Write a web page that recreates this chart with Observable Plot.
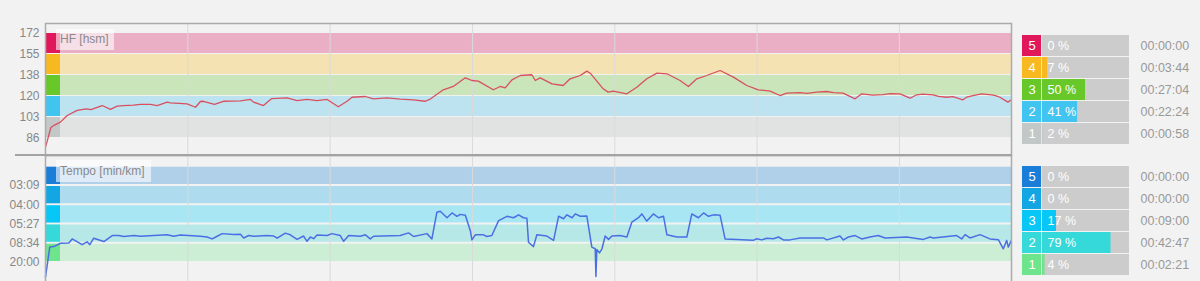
<!DOCTYPE html>
<html><head><meta charset="utf-8">
<script src="https://cdn.jsdelivr.net/npm/d3@7"></script>
<script src="https://cdn.jsdelivr.net/npm/@observablehq/plot@0.6"></script>
<style>
html,body{margin:0;padding:0;background:#f2f2f2;overflow:hidden;}
#chart{position:relative;width:1200px;height:281px;overflow:hidden;font-family:"Liberation Sans",Arial,sans-serif;}
#chart > *{position:absolute;}
.lbl{background:rgba(255,255,255,0.6);color:#8a8a8a;font-size:12px;padding-left:4px;box-sizing:border-box;white-space:nowrap;}
</style></head><body><div id="chart"></div>
<script>
// ---------- data ----------
const T_MAX = 54.3;                       // minutes
const X_GRID = [8, 16, 24, 32, 40, 48];   // minutes

// Heart rate zones (bpm)
const HR_ZONE = [1, 2, 3, 4, 5];
const HR_LO = [86, 103.2, 120.4, 137.6, 154.8];
const HR_HI = [103.2, 120.4, 137.6, 154.8, 172];
const HR_TICKS = [86, 103.2, 120.4, 137.6, 154.8, 172];
const HR_TICK_LABELS = ["86", "103", "120", "138", "155", "172"];
const HR_PCT = [2, 41, 50, 7, 0];
const HR_TIME = ["00:00:58", "00:22:24", "00:27:04", "00:03:44", "00:00:00"];

// Tempo zones (km/h, shown as min/km)
const SP_ZONE = [1, 2, 3, 4, 5];
const SP_LO = [3, 7, 11, 15, 19];
const SP_HI = [7, 11, 15, 19, 23];
const SP_TICKS = [3, 7, 11, 15, 19];
const SP_TICK_LABELS = ["20:00", "08:34", "05:27", "04:00", "03:09"];
const SP_PCT = [4, 79, 17, 0, 0];
const SP_TIME = ["00:02:21", "00:42:47", "00:09:00", "00:00:00", "00:00:00"];

// Heart rate series
const HR_T = [0,0.1,0.3,0.45,0.84,1.22,1.78,2.3,2.55,3.19,3.65,4.03,4.38,4.94,5.34,5.9,6.28,6.84,7.02,7.96,8.43,8.71,8.88,9.5,10,10.96,11.52,11.69,12.25,12.7,13.58,14.14,14.7,15.26,15.83,16.46,16.95,17.23,17.98,18.43,19.2,19.94,20.67,21.35,21.63,22.36,22.92,23.6,23.97,24.33,25.17,25.56,25.84,26.22,26.69,27.34,27.53,27.81,28.47,29.1,29.49,30.06,30.43,30.62,31.35,31.63,31.91,32.68,33.24,33.8,34.37,34.93,35.67,36.14,36.61,37.17,37.92,38.67,39.42,40.07,40.73,41.29,41.67,42.42,42.8,43.35,43.9,44.3,44.83,45.51,45.88,46.5,47.08,47.5,48.03,48.6,48.97,49.3,49.89,50.2,50.66,51.0,51.57,51.78,52.2,52.62,53.19,53.4,53.65,54.1,54.3];
const HR_V = [79,84,95,96.5,99.4,104.8,109,110.3,109.6,113,109.8,112.5,113,113.3,113.9,113.9,113,115.8,115.2,114.4,111.6,116.3,116.5,114,116.5,116.8,118,115.8,113,118.6,119.3,117,118,117,118,112,116.5,119.8,120.4,118.5,119.3,118.2,117.7,116.5,118.3,125.9,128.6,135.7,133.5,133,125.9,128.6,127.5,134,137.6,138.2,133.5,135.7,130.8,129.4,134.9,137.6,141.2,139.5,126.7,124,124.8,122.6,128,134.9,139.5,139,133.5,128.6,134.9,137.6,141.7,136.3,129.4,125.9,124.8,121.2,123.1,123.5,123,124,124.5,123.6,123.1,118.5,122.6,121.5,122,122.8,122.6,119,121.8,122.3,121.8,120.5,119.8,120.3,117.7,119.8,121.3,122.6,121.8,121.2,119.8,115.8,117.7];

// Speed series (km/h)
const SP_T = [0,0.24,0.47,0.84,1.31,1.5,2.06,2.34,2.49,2.71,3.28,3.75,4.12,4.4,4.96,5.34,6.84,7.21,7.58,8.71,9.08,9.37,9.65,9.93,10.58,10.96,11.14,11.42,11.7,12.46,12.83,13.02,13.48,13.76,14.14,14.51,14.7,14.89,15.07,15.26,15.83,16.1,16.57,16.76,17.04,17.7,17.98,18.26,18.44,19.94,20.41,20.69,21.44,21.72,22.0,22.19,22.57,22.85,23.13,23.31,23.6,23.88,23.97,24.16,24.62,24.81,25.09,25.47,25.94,26.31,26.59,26.87,27.06,27.15,27.43,27.62,28.18,28.56,28.84,29.12,29.31,29.6,29.78,30.06,30.43,30.71,30.9,30.94,30.99,31.14,31.28,31.46,31.65,31.84,32.3,32.68,32.96,33.33,33.52,33.8,34.17,34.46,34.74,34.93,35.49,36.05,36.33,36.7,36.99,37.27,37.55,37.92,38.2,39.79,39.98,40.26,40.54,40.92,41.2,41.48,41.85,42.42,43.73,43.92,44.66,44.85,45.13,45.51,45.88,46.35,46.81,47.19,48.41,49.34,49.72,49.91,51.22,51.5,51.69,51.97,52.53,53.09,53.56,53.84,54.03,54.12,54.27];
const SP_V = [0,6.2,6.3,7.0,7.05,7.9,6.7,7.3,6.7,8.05,7.35,8.6,8.6,8.4,8.6,8.45,8.75,8.45,8.7,8.45,8.3,7.9,8.45,9.0,8.8,8.85,8.1,8.6,8.45,8.6,8.5,8.05,9.1,8.75,7.8,8.5,7.4,8.3,7.95,8.7,8.6,9.0,8.6,7.4,8.6,8.45,8.75,7.9,8.45,8.6,9.15,8.4,9.0,7.9,13.45,13.66,12.3,13.3,12.6,13.0,12.8,9.6,7.7,8.75,8.75,8.4,8.6,11.7,12.6,12.3,12.9,12.3,12.2,7.2,6.3,8.75,8.5,7.6,12.6,12.1,12.9,12.3,13.1,12.6,12.65,6.2,5.85,0.1,5.7,5.0,5.85,8.5,7.8,8.5,8.6,8.3,11.4,12.3,13.1,11.6,13.1,12.3,12.6,8.75,8.3,8.3,13.1,12.3,13.3,12.6,12.9,12.8,7.9,7.6,7.95,7.7,8.05,7.95,8.3,7.7,7.7,8.1,8.1,7.7,8.5,7.7,8.3,8.6,7.9,8.3,8.6,8.1,8.3,7.8,8.3,8.1,8.6,7.9,8.8,8.1,8.8,7.9,7.75,5.85,7.6,6.2,7.45];

// Colours
const HR_STRONG = ["#c2c8c8", "#42c4f0", "#68c82a", "#f8b820", "#e0185b"];
const HR_BAND   = ["#e1e3e2", "#bee3f0", "#c9e5b9", "#f5e2b2", "#ebafc5"];
const SP_STRONG = ["#6ee48c", "#36d9d9", "#06c7f5", "#14a6e2", "#1a7ed9"];
const SP_BAND   = ["#cbeed5", "#b6e8e8", "#a9e6f3", "#aedcee", "#b0d0ea"];

// ---------- build ----------
const hrZones = HR_ZONE.map((z, i) => ({zone: z, lo: HR_LO[i], hi: HR_HI[i], strong: HR_STRONG[i], band: HR_BAND[i], pct: HR_PCT[i], time: HR_TIME[i]}));
const spZones = SP_ZONE.map((z, i) => ({zone: z, lo: SP_LO[i], hi: SP_HI[i], strong: SP_STRONG[i], band: SP_BAND[i], pct: SP_PCT[i], time: SP_TIME[i]}));
const hr = HR_T.map((t, i) => ({t, v: HR_V[i]}));
const sp = SP_T.map((t, i) => ({t, v: SP_V[i]}));

const FONT = '"Liberation Sans", Arial, sans-serif';
const PLOT_W = 1015, PLOT_L = 45, PLOT_R = 4;
const STRIP = T_MAX * 15 / (PLOT_W - PLOT_L - PLOT_R); // 15px colour strip, in minutes

function panel(zones, data, opts) {
  return Plot.plot({
    width: PLOT_W, height: opts.height,
    marginLeft: PLOT_L, marginRight: PLOT_R, marginTop: opts.marginTop, marginBottom: opts.marginBottom,
    x: {domain: [0, T_MAX], axis: null},
    y: {domain: opts.domain, range: opts.range, ticks: opts.ticks,
        tickFormat: d => opts.labels[opts.ticks.indexOf(d)], tickSize: 0, tickPadding: 6, label: null},
    color: {type: "identity"},
    style: {background: "transparent", color: "#888", fontSize: "12px", fontFamily: FONT, overflow: "visible"},
    marks: [
      Plot.rect(zones, {x1: 0, x2: T_MAX, y1: "lo", y2: "hi", fill: "band", insetTop: opts.inset[0], insetBottom: opts.inset[1]}),
      Plot.ruleX(X_GRID, {stroke: "#dadada"}),
      Plot.rect(zones, {x1: 0, x2: STRIP, y1: "lo", y2: "hi", fill: "strong", insetTop: opts.inset[0], insetBottom: opts.inset[1]}),
      Plot.line(data, {x: "t", y: "v", stroke: opts.line, strokeWidth: opts.lw}),
      Plot.frame({stroke: "#ababab", strokeWidth: 1.5})
    ]
  });
}

const BOX = 100 * 19 / 88; // number box width in percent units
function summary(zones, height, yRange) {
  return Plot.plot({
    width: 185, height, margin: 0,
    x: {domain: [0, 100], range: [26, 114], axis: null},
    y: {domain: [5, 4, 3, 2, 1], range: yRange, paddingInner: 0.05, paddingOuter: 0, axis: null},
    color: {type: "identity"},
    style: {background: "transparent", fontSize: "12.5px", fontFamily: FONT},
    marks: [
      Plot.barX(zones, {x1: 0, x2: 100, y: "zone", fill: "#cccccc"}),
      Plot.barX(zones, {x1: 0, x2: "pct", y: "zone", fill: "strong"}),
      Plot.barX(zones, {x1: -BOX, x2: 0, y: "zone", fill: "strong"}),
      Plot.tickX(zones, {x: 0, y: "zone", stroke: "#e4e4e4"}),
      Plot.text(zones, {x: -BOX / 2, y: "zone", text: d => String(d.zone), fill: "white", fontSize: 13}),
      Plot.text(zones, {x: 0, y: "zone", text: d => d.pct + " %", dx: 6, textAnchor: "start", fill: "white"}),
      Plot.text(zones, {x: 100, y: "zone", text: "time", dx: 11, textAnchor: "start", fill: "#999"})
    ]
  });
}

const chart = document.getElementById("chart");
function place(el, left, top) { el.style.left = left + "px"; el.style.top = top + "px"; chart.appendChild(el); return el; }

place(panel(hrZones, hr, {height: 156, marginTop: 23, marginBottom: 1, domain: [86, 172], range: [138, 33],
  ticks: HR_TICKS, labels: HR_TICK_LABELS, inset: [0, 1], line: "#d8505f", lw: 1.3}), 0, 0);
place(panel(spZones, sp, {height: 130, marginTop: 0, marginBottom: 0, domain: [3, 19], range: [107, 30],
  ticks: SP_TICKS, labels: SP_TICK_LABELS, inset: [1, 1], line: "#4a6fe3", lw: 1.5}), 0, 155);

place(summary(hrZones, 156, [35, 144.5]), 1015, 0);
place(summary(spZones, 126, [11, 120.5]), 1015, 155);

// panel labels
const l1 = document.createElement("div"); l1.className = "lbl"; l1.textContent = "HF [hsm]";
l1.style.width = "58px"; l1.style.height = "21px"; l1.style.lineHeight = "21px"; place(l1, 56, 29);
const l2 = document.createElement("div"); l2.className = "lbl"; l2.textContent = "Tempo [min/km]";
l2.style.width = "95px"; l2.style.height = "22px"; l2.style.lineHeight = "22px"; place(l2, 56, 160);

// separator between panels
const sep = document.createElement("div");
sep.style.width = "997px"; sep.style.height = "2px"; sep.style.background = "#a3a3a3";
place(sep, 15, 154);
</script></body></html>
